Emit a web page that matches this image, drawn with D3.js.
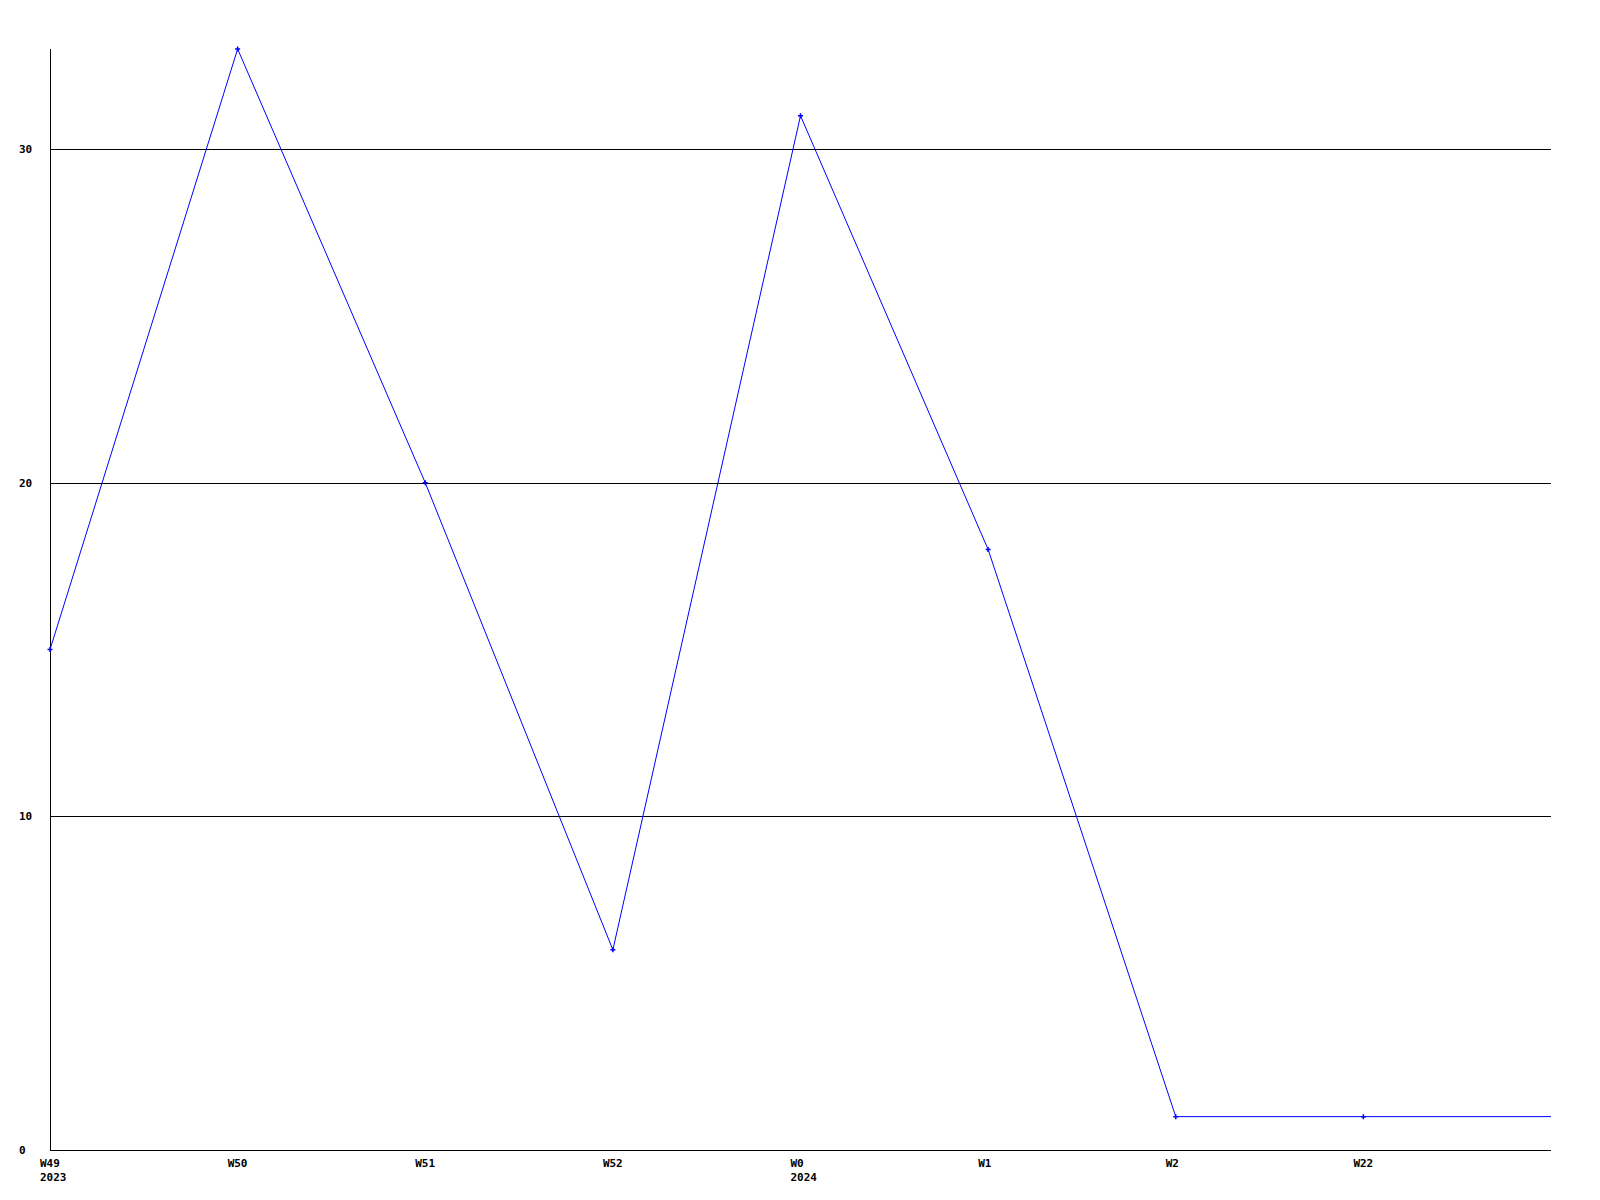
<!DOCTYPE html>
<html>
<head>
<meta charset="utf-8">
<script src="https://cdn.jsdelivr.net/npm/d3@7"></script>
<style>
  body { margin: 0; background: #fff; }
  text { font-family: "DejaVu Sans Mono", "Liberation Mono", monospace; font-size: 11px; font-weight: bold; fill: #000; }
</style>
</head>
<body>
<svg width="1600" height="1200"></svg>
<script>
const weeks = ["W49", "W50", "W51", "W52", "W0", "W1", "W2", "W22"];
const years = ["2023", "", "", "", "2024", "", "", ""];
const counts = [15, 33, 20, 6, 31, 18, 1, 1];
const yTicks = [0, 10, 20, 30];

const svg = d3.select("svg");
const plotLeft = 50, plotRight = 1551, plotTop = 49, plotBottom = 1150;

const x = d3.scaleLinear().domain([0, weeks.length]).range([plotLeft, plotRight]);
const y = d3.scaleLinear().domain([0, 33]).range([plotBottom, plotTop]);

// gridlines
svg.append("g")
	.selectAll("line")
	.data(yTicks.filter(d => d > 0))
	.enter()
	.append("line")
	.attr("x1", plotLeft)
	.attr("x2", plotRight)
	.attr("y1", d => Math.round(y(d)) + 0.5)
	.attr("y2", d => Math.round(y(d)) + 0.5)
	.attr("stroke", "#000")
	.attr("stroke-width", 1);

// axes
svg.append("line")
	.attr("x1", plotLeft + 0.5).attr("x2", plotLeft + 0.5)
	.attr("y1", plotTop).attr("y2", plotBottom)
	.attr("stroke", "#000");
svg.append("line")
	.attr("x1", plotLeft).attr("x2", plotRight)
	.attr("y1", plotBottom + 0.5).attr("y2", plotBottom + 0.5)
	.attr("stroke", "#000");

// y labels
svg.append("g")
	.selectAll("text")
	.data(yTicks)
	.enter()
	.append("text")
	.attr("x", 19)
	.attr("y", d => y(d))
	.attr("dy", "0.35em")
	.text(d => d);

// x labels
const xl = svg.append("g")
	.selectAll("g")
	.data(weeks)
	.enter()
	.append("g");
xl.append("text")
	.attr("x", (d, i) => x(i) - 10)
	.attr("y", plotBottom + 13)
	.attr("dy", "0.35em")
	.text(d => d);
xl.append("text")
	.attr("x", (d, i) => x(i) - 10)
	.attr("y", plotBottom + 27)
	.attr("dy", "0.35em")
	.text((d, i) => years[i]);

// line, last value carried to the right edge
const pts = counts.map((v, i) => [x(i), y(v)]);
pts.push([x(weeks.length), y(counts[counts.length - 1])]);
svg.append("path")
	.attr("d", d3.line()(pts))
	.attr("fill", "none")
	.attr("stroke", "#0000ff")
	.attr("stroke-width", 1);

// markers
svg.append("g")
	.selectAll("path")
	.data(counts)
	.enter()
	.append("path")
	.attr("d", (d, i) => {
		const cx = x(i), cy = y(d);
		return `M${cx - 2.5},${cy}H${cx + 2.5}M${cx},${cy - 2.5}V${cy + 2.5}`;
	})
	.attr("stroke", "#0000ff")
	.attr("stroke-width", 1.5);
</script>
</body>
</html>
